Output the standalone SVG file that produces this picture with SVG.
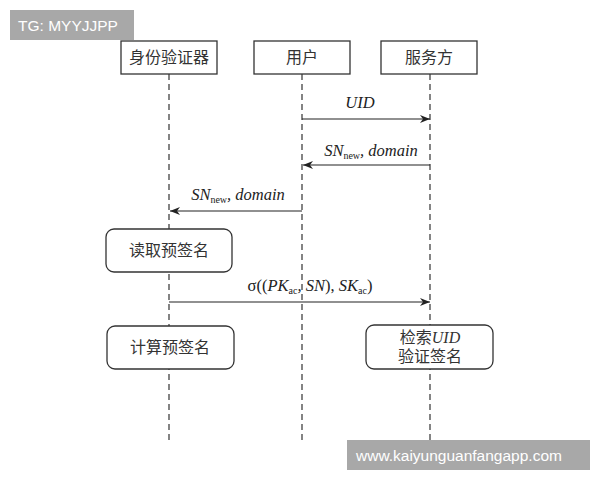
<svg xmlns="http://www.w3.org/2000/svg" width="600" height="480" viewBox="0 0 600 480">
<defs>
<marker id="ah" markerWidth="10" markerHeight="8" refX="10" refY="4" orient="auto" markerUnits="userSpaceOnUse"><path d="M0,0 L10,4 L0,8 L3,4 Z" fill="#222"/></marker>
<style>
.box{fill:#fff;stroke:#333;stroke-width:1.3}
.life{stroke:#333;stroke-width:1.2;stroke-dasharray:6,4}
.msg{stroke:#222;stroke-width:1.2;marker-end:url(#ah)}
.cn{font-family:"Liberation Serif","Noto Sans CJK SC",serif;font-size:16px;fill:#333;text-anchor:middle}
.it{font-family:"Liberation Serif",serif;font-size:16.5px;font-style:italic;fill:#222;text-anchor:middle}
.sub{font-size:10px;font-style:normal}
.wm{font-family:"Liberation Sans",sans-serif;font-size:15.5px;fill:#fff}
</style>
</defs>
<rect width="600" height="480" fill="#fff"/>
<g id="lifelines">
<line class="life" x1="169" y1="74" x2="169" y2="440"/>
<line class="life" x1="302" y1="74" x2="302" y2="440"/>
<line class="life" x1="430" y1="74" x2="430" y2="440"/>
</g>
<g id="n1"><rect class="box" x="121" y="41" width="96" height="33"/><text class="cn" x="169" y="63">身份验证器</text></g>
<g id="n2"><rect class="box" x="254" y="41" width="96" height="33"/><text class="cn" x="302" y="63">用户</text></g>
<g id="n3"><rect class="box" x="381" y="41" width="96" height="33"/><text class="cn" x="429" y="63">服务方</text></g>
<g id="n4"><rect class="box" x="106" y="229" width="126" height="43" rx="8"/><text class="cn" x="169" y="256">读取预签名</text></g>
<g id="n5"><rect class="box" x="107" y="326" width="127" height="43" rx="8"/><text class="cn" x="170" y="353">计算预签名</text></g>
<g id="n6"><rect class="box" x="366" y="325" width="127" height="44" rx="8"/><text class="cn" x="430" y="343">检索<tspan font-style="italic">UID</tspan></text><text class="cn" x="430" y="362">验证签名</text></g>
<g id="connectors">
<line class="msg" x1="302" y1="119" x2="430" y2="119"/>
<text class="it" x="360" y="108">UID</text>
<line class="msg" x1="430" y1="165" x2="303" y2="165"/>
<text class="it" x="371" y="156">SN<tspan class="sub" dy="3">new</tspan><tspan dy="-3">, domain</tspan></text>
<line class="msg" x1="302" y1="211" x2="170" y2="211"/>
<text class="it" x="238" y="200">SN<tspan class="sub" dy="3">new</tspan><tspan dy="-3">, domain</tspan></text>
<line class="msg" x1="169" y1="302" x2="430" y2="302"/>
<text class="it" x="310" y="291"><tspan font-style="normal">σ((</tspan>PK<tspan class="sub" font-style="italic" dy="3">ac</tspan><tspan dy="-3">, SN</tspan><tspan font-style="normal">), </tspan>SK<tspan class="sub" font-style="italic" dy="3">ac</tspan><tspan font-style="normal" dy="-3">)</tspan></text>
</g>
<g id="watermarks">
<rect x="10" y="10" width="124" height="30" fill="#9e9e9e" opacity="0.9"/>
<text class="wm" x="18" y="31">TG: MYYJJPP</text>
<rect x="347" y="440" width="243" height="30" fill="#9e9e9e" opacity="0.9"/>
<text class="wm" x="356" y="461">www.kaiyunguanfangapp.com</text>
</g>
</svg>
